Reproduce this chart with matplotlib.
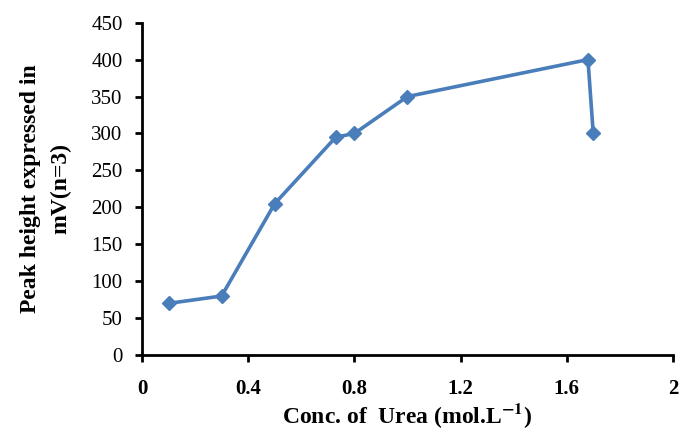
import matplotlib
matplotlib.use("Agg")
import matplotlib.pyplot as plt

conc = [0.1, 0.3, 0.5, 0.73, 0.8, 1.0, 1.68, 1.7]
peak = [70, 80, 205, 295, 300, 350, 400, 300]
xticks = [0, 0.4, 0.8, 1.2, 1.6, 2]
xticklabels = ["0", "0.4", "0.8", "1.2", "1.6", "2"]
yticks = [0, 50, 100, 150, 200, 250, 300, 350, 400, 450]

plt.rcParams['font.family'] = ['Liberation Serif', 'DejaVu Serif']
plt.rcParams['mathtext.fontset'] = 'stix'

fig = plt.figure(figsize=(6.79, 4.32), dpi=100)
ax = fig.add_axes([0.2091, 0.178, 0.991 - 0.2091, 0.9475 - 0.178])

color = '#4a7ebb'
ax.plot(conc, peak, color=color, lw=2.6, marker='D', ms=7.5, mfc=color, mec=color)

ax.set_xlim(0, 2)
ax.set_ylim(0, 450)
ax.set_xticks(xticks)
ax.set_xticklabels(xticklabels, fontsize=15, fontweight='bold')
ax.set_yticks(yticks)
ax.set_yticklabels([str(v) for v in yticks], fontsize=15)

for s in ['top', 'right']:
    ax.spines[s].set_visible(False)
for s in ['left', 'bottom']:
    ax.spines[s].set_linewidth(2)
    ax.spines[s].set_color('black')
ax.tick_params(direction='out', length=5, width=2)
ax.tick_params(axis='x', pad=12)
ax.tick_params(axis='y', pad=9)

ax.set_xlabel(r"Conc. of  Urea (mol.L$^{\mathbf{-1}}$)", fontsize=17, fontweight='bold', labelpad=2)
ax.set_ylabel("Peak height expressed in\nmV(n=3)", fontsize=17, fontweight='bold', labelpad=14, linespacing=1.6)

fig.savefig("out.png", dpi=100)
